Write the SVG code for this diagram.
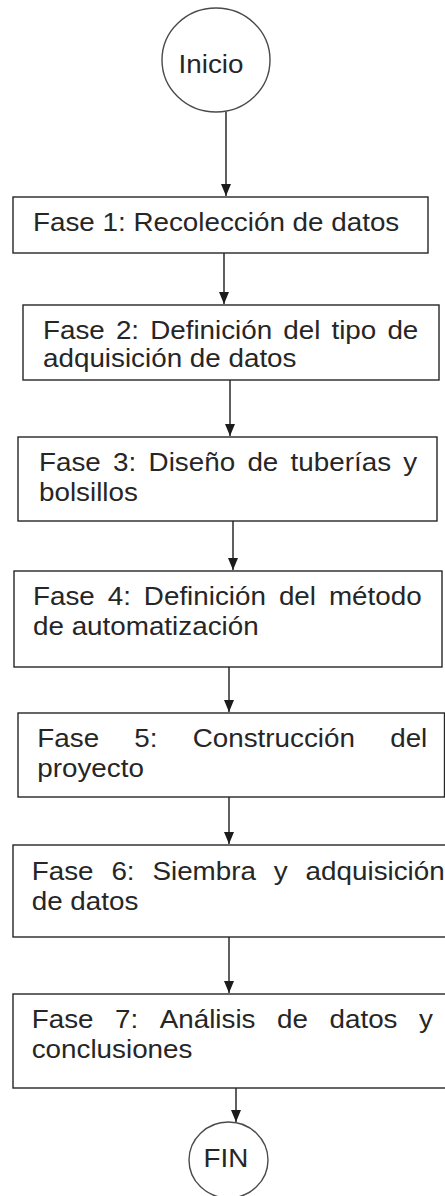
<svg xmlns="http://www.w3.org/2000/svg" width="445" height="1196" viewBox="0 0 445 1196">
<style>
.bg{fill:#ffffff}
.box{fill:#ffffff;stroke:#262626;stroke-width:1.4}
.term{fill:#ffffff;stroke:#4a4a4a;stroke-width:1.4}
.t{font-family:"Liberation Sans",Arial,sans-serif;font-size:26px;fill:#262626}
.edge{fill:none;stroke:#1c1c1c;stroke-width:1.4}
</style>
<defs>
<marker id="ah" markerUnits="userSpaceOnUse" markerWidth="12" markerHeight="11" refX="12" refY="5.5" orient="auto">
<path d="M0,0.5 L12,5.5 L0,10.5 z" fill="#1c1c1c"/>
</marker>
</defs>
<rect class="bg" x="0" y="0" width="445" height="1196"/>
<g id="connectors">
<line class="edge" x1="226" y1="112" x2="226" y2="196" marker-end="url(#ah)"/>
<line class="edge" x1="224" y1="253" x2="224" y2="304" marker-end="url(#ah)"/>
<line class="edge" x1="230" y1="380" x2="230" y2="436" marker-end="url(#ah)"/>
<line class="edge" x1="233" y1="521" x2="233" y2="570" marker-end="url(#ah)"/>
<line class="edge" x1="229" y1="667" x2="229" y2="712" marker-end="url(#ah)"/>
<line class="edge" x1="229" y1="797" x2="229" y2="844" marker-end="url(#ah)"/>
<line class="edge" x1="229" y1="937" x2="229" y2="993" marker-end="url(#ah)"/>
<line class="edge" x1="236" y1="1088" x2="236" y2="1122" marker-end="url(#ah)"/>
</g>
<g id="inicio">
<ellipse class="term" cx="216" cy="60" rx="54" ry="52"/>
<text class="t" transform="scale(1.07 1)" x="197.2" y="73" text-anchor="middle">Inicio</text>
</g>
<g id="fase1">
<rect class="box" x="13" y="197" width="415" height="56"/>
<text class="t" transform="scale(1.07 1)" x="30.84" y="231">Fase 1: Recolección de datos</text>
</g>
<g id="fase2">
<rect class="box" x="23" y="305" width="416" height="75"/>
<text class="t" transform="scale(1.07 1)" y="339"><tspan x="40.19">Fase</tspan> <tspan x="108.31">2:</tspan> <tspan x="140.32">Definición</tspan> <tspan x="264.79">del</tspan> <tspan x="309.79">tipo</tspan> <tspan x="362.04">de</tspan></text>
<text class="t" transform="scale(1.07 1)" x="40.19" y="367">adquisición de datos</text>
</g>
<g id="fase3">
<rect class="box" x="18" y="437" width="419" height="84"/>
<text class="t" transform="scale(1.07 1)" y="471"><tspan x="36.45">Fase</tspan> <tspan x="105.70">3:</tspan> <tspan x="138.84">Diseño</tspan> <tspan x="231.21">de</tspan> <tspan x="271.59">tuberías</tspan> <tspan x="376.98">y</tspan></text>
<text class="t" transform="scale(1.07 1)" x="36.45" y="501">bolsillos</text>
</g>
<g id="fase4">
<rect class="box" x="14" y="571" width="428" height="96"/>
<text class="t" transform="scale(1.07 1)" y="605"><tspan x="30.84">Fase</tspan> <tspan x="100.70">4:</tspan> <tspan x="134.45">Definición</tspan> <tspan x="260.65">del</tspan> <tspan x="307.40">método</tspan></text>
<text class="t" transform="scale(1.07 1)" x="30.84" y="635">de automatización</text>
</g>
<g id="fase5">
<rect class="box" x="18" y="713" width="426.5" height="84"/>
<text class="t" transform="scale(1.07 1)" y="747"><tspan x="34.86">Fase</tspan> <tspan x="125.52">5:</tspan> <tspan x="180.07">Construcción</tspan> <tspan x="364.65">del</tspan></text>
<text class="t" transform="scale(1.07 1)" x="34.86" y="777">proyecto</text>
</g>
<g id="fase6">
<rect class="box" x="13" y="845" width="440" height="92"/>
<text class="t" transform="scale(1.07 1)" y="880"><tspan x="29.63">Fase</tspan> <tspan x="104.10">6:</tspan> <tspan x="142.47">Siembra</tspan> <tspan x="255.94">y</tspan> <tspan x="285.63">adquisición</tspan></text>
<text class="t" transform="scale(1.07 1)" x="29.63" y="910">de datos</text>
</g>
<g id="fase7">
<rect class="box" x="13" y="994" width="440" height="94"/>
<text class="t" transform="scale(1.07 1)" y="1028"><tspan x="29.63">Fase</tspan> <tspan x="107.51">7:</tspan> <tspan x="149.29">Análisis</tspan> <tspan x="258.95">de</tspan> <tspan x="307.96">datos</tspan> <tspan x="391.65">y</tspan></text>
<text class="t" transform="scale(1.07 1)" x="29.63" y="1058">conclusiones</text>
</g>
<g id="fin">
<ellipse class="term" cx="228.5" cy="1160" rx="39.5" ry="38"/>
<text class="t" transform="scale(1.07 1)" x="211.2" y="1167" text-anchor="middle">FIN</text>
</g>
</svg>
